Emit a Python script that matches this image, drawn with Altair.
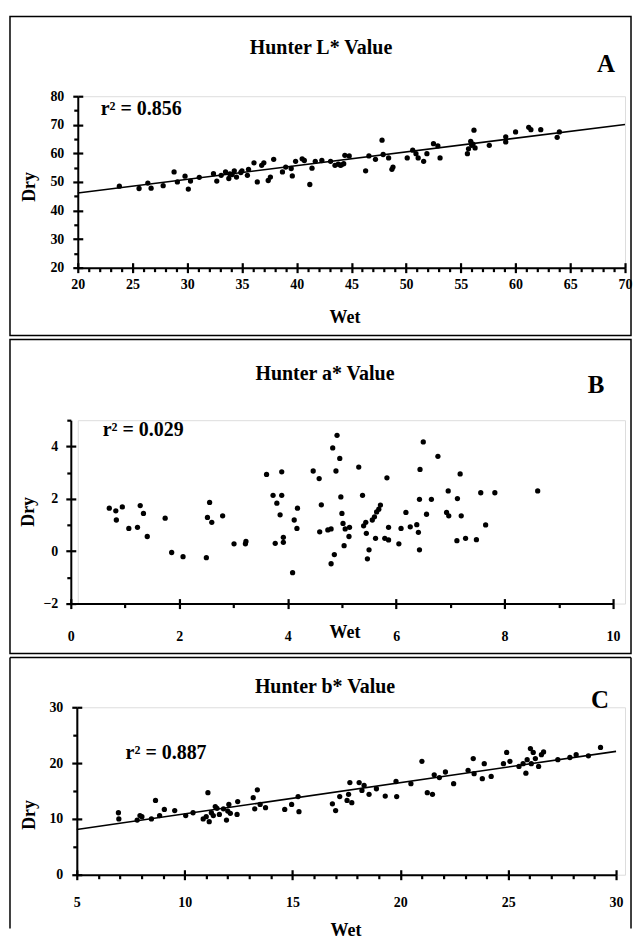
import altair as alt
import pandas as pd

FONT = "Liberation Serif"

# ---------------- data ----------------
titles = ["Hunter L* Value", "Hunter a* Value", "Hunter b* Value"]
letters = ["A", "B", "C"]
r2_labels = ["r\u00b2 = 0.856", "r\u00b2 = 0.029", "r\u00b2 = 0.887"]
x_title = "Wet"
y_title = "Dry"

a_wet = [23.8, 25.6, 26.4, 26.7, 27.8, 28.8, 29.1, 29.8, 30.1, 30.3, 31.1, 32.4, 32.7, 33.1, 33.5,
         33.8, 34.3, 34.5, 34.9, 35.5, 35.6, 36.1, 36.4, 36.8, 37.0, 37.4, 37.6, 37.9, 38.7, 39.0,
         39.5, 39.6, 39.9, 40.5, 40.7, 41.2, 41.4, 41.7, 42.3, 43.1, 43.5, 44.0, 44.3, 44.4, 44.8,
         46.3, 46.6, 47.2, 47.8, 47.9, 48.4, 48.7, 48.8, 50.1, 50.6, 50.9, 51.1, 51.6, 51.9, 52.5,
         52.9, 53.1, 55.6, 55.7, 55.9, 56.0, 56.2, 56.3, 57.6, 59.1, 59.1, 60.0, 61.2, 61.4, 62.3,
         63.8, 64.0, 33.9, 34.1, 44.1, 35.0, 43.8, 56.1]
a_dry = [48.5, 47.7, 49.6, 47.8, 48.7, 53.5, 50.0, 52.0, 47.5, 50.3, 51.6, 52.9, 50.3, 52.3, 53.5,
         51.2, 53.9, 51.7, 53.3, 52.3, 54.4, 56.7, 50.0, 55.8, 56.7, 50.5, 51.7, 57.9, 53.5, 55.2,
         54.7, 52.1, 57.2, 58.1, 57.5, 49.1, 54.8, 57.2, 57.5, 57.2, 55.8, 55.8, 56.4, 59.3, 59.1,
         53.9, 59.1, 57.9, 64.6, 59.6, 58.4, 54.4, 55.2, 58.4, 61.1, 59.9, 58.4, 57.2, 59.9, 63.4,
         62.6, 58.4, 59.9, 61.6, 64.2, 62.8, 68.1, 61.9, 62.8, 65.8, 64.0, 67.5, 69.1, 68.3, 68.3,
         65.6, 67.5, 52.8, 52.6, 56.0, 53.9, 56.2, 63.2]
a_fit_x = [20, 70]
a_fit_y = [46.1, 70.1]

b_wet = [0.71, 0.83, 0.84, 0.95, 1.07, 1.23, 1.28, 1.34, 1.41, 1.74, 1.86, 2.07, 2.50, 2.52, 2.56,
         2.60, 2.80, 3.01, 3.22, 3.23, 3.61, 3.73, 3.77, 3.80, 3.86, 3.89, 3.89, 3.92, 3.92, 4.09,
         4.12, 4.18, 4.17, 4.47, 4.58, 4.59, 4.62, 4.74, 4.80, 4.80, 4.83, 4.86, 4.89, 4.91, 4.96,
         4.98, 5.00, 5.02, 5.04, 5.06, 5.13, 5.14, 5.31, 5.38, 5.40, 5.44, 5.45, 5.47, 5.50, 5.56,
         5.60, 5.64, 5.68, 5.71, 5.62, 5.79, 5.83, 5.86, 5.86, 6.05, 6.09, 6.18, 6.26, 6.38, 6.41,
         6.43, 6.43, 6.44, 6.50, 6.56, 6.65, 6.77, 6.93, 6.96, 6.97, 7.12, 7.13, 7.18, 7.20, 7.28,
         7.48, 7.56, 7.65, 7.82, 8.61]
b_dry = [1.64, 1.54, 1.19, 1.69, 0.87, 0.91, 1.74, 1.44, 0.56, 1.26, -0.05, -0.21, -0.25, 1.29, 1.86,
         1.10, 1.35, 0.28, 0.28, 0.37, 2.93, 2.13, 0.30, 1.83, 1.39, 3.03, 2.13, 0.34, 0.53, -0.82,
         1.19, 1.64, 0.87, 3.06, 2.77, 0.74, 1.77, 0.81, -0.48, 0.85, 3.94, -0.13, 3.06, 4.42, 3.54,
         2.07, 1.44, 1.06, 0.21, 0.85, 0.56, 0.91, 3.21, 2.13, 0.97, 1.10, 0.68, -0.29, 0.05, 1.19,
         1.31, 1.50, 1.60, 1.76, 0.49, 0.49, 2.80, 0.43, 0.91, 0.28, 0.87, 1.48, 0.93, 1.01, 0.72,
         0.05, 1.98, 3.12, 4.17, 1.41, 1.98, 3.62, 1.48, 2.30, 1.35, 0.40, 2.01, 2.95, 1.35, 0.49,
         0.44, 2.23, 1.00, 2.23, 2.30]

c_wet = [6.93, 6.95, 7.80, 7.93, 8.02, 8.46, 8.65, 8.84, 9.06, 9.54, 10.05, 10.39, 10.86, 11.08, 11.14,
         11.24, 11.33, 11.42, 11.61, 11.80, 11.94, 12.05, 12.12, 12.43, 12.46, 13.18, 13.25, 13.37, 13.50, 13.75,
         14.64, 14.96, 15.26, 15.30, 16.85, 17.00, 17.19, 17.53, 17.60, 17.66, 17.75, 18.09, 18.22, 18.32, 18.55,
         18.89, 19.30, 19.80, 19.83, 20.49, 21.00, 21.25, 21.49, 21.57, 21.81, 22.09, 22.47, 23.14, 23.38, 23.42,
         23.80, 23.89, 24.21, 24.78, 24.93, 25.08, 25.50, 25.69, 25.82, 25.88, 26.03, 26.07, 26.16, 26.26, 26.41,
         26.54, 26.64, 27.30, 27.86, 28.15, 28.72, 29.28, 11.00, 11.50, 12.00]
c_dry = [11.1, 10.0, 9.8, 10.6, 10.4, 10.0, 13.3, 10.6, 11.7, 11.5, 10.6, 11.1, 10.0, 14.7, 9.5,
         11.1, 10.6, 12.2, 10.8, 11.8, 9.8, 12.6, 11.0, 10.8, 13.1, 13.8, 11.8, 15.2, 12.6, 12.0,
         11.7, 12.6, 14.0, 11.3, 12.7, 11.5, 14.0, 13.3, 14.4, 16.5, 12.9, 16.5, 15.1, 16.0, 14.4,
         15.4, 14.1, 16.7, 14.0, 16.3, 20.3, 14.7, 14.4, 17.9, 17.4, 18.4, 16.3, 18.7, 20.8, 18.1,
         17.2, 19.9, 17.6, 19.9, 21.9, 20.3, 19.4, 19.9, 18.2, 20.6, 22.6, 19.9, 21.9, 20.8, 19.4,
         21.5, 22.0, 20.6, 21.0, 21.5, 21.3, 22.8, 10.4, 11.9, 11.4]
c_fit_x = [5, 30]
c_fit_y = [8.1, 22.1]

a_x_major = [20, 25, 30, 35, 40, 45, 50, 55, 60, 65, 70]
a_x_minor = [v for v in range(21, 70) if v % 5 != 0]
a_y_major = [20, 30, 40, 50, 60, 70, 80]
a_y_minor = [25, 35, 45, 55, 65, 75]

b_x_major = [0, 2, 4, 6, 8, 10]
b_x_minor = [1, 3, 5, 7, 9]
b_y_major = [-2, 0, 2, 4]
b_y_minor = [-1, 1, 3, 5]

c_x_major = [5, 10, 15, 20, 25, 30]
c_x_minor = [v for v in range(6, 30) if v % 5 != 0]
c_y_major = [0, 10, 20, 30]
c_y_minor = [5, 15, 25]

W = 549  # common group width; each panel's x axis set through its scale range
TICK = "#000000"


def txt(s, size, **kw):
    return alt.Chart(pd.DataFrame({"t": [s]})).mark_text(
        font=FONT, fontWeight="bold", fontSize=size, color="black", **kw
    )


def main_axis(major, minor, pad, offset=0):
    test = "indexof(%s, datum.value) >= 0" % str(list(major))
    return alt.Axis(
        values=sorted(list(major) + list(minor)),
        ticks=True, tickColor=TICK, tickOpacity=1, tickWidth=2.2,
        tickSize={"condition": {"test": test, "value": 5}, "value": 4},
        labelExpr="%s ? datum.label : ''" % test,
        domain=True, domainColor="black", domainWidth=2, grid=False,
        labelFont=FONT, labelFontWeight="bold", labelFontSize=14, labelColor="black",
        labelPadding=pad, labelFlush=False, labelOverlap=False, title=None, offset=offset,
    )


def inner_axis(major, orient, offset):
    return alt.Axis(orient=orient, values=list(major), ticks=True, tickColor=TICK,
                    tickOpacity=1, tickWidth=2.2, tickSize=5, labels=False, domain=False,
                    grid=False, title=None, offset=offset)


def panel(i, wet, dry, fit, xdom, ydom, xmaj, xmin, ymaj, ymin, H, lay):
    x0, x1 = lay["xrange"]
    xs = alt.Scale(domain=xdom, nice=False, zero=False, range=[x0, x1])
    ys = alt.Scale(domain=ydom, nice=False, zero=False)
    layers = []
    bx1, bx2, by1, by2 = lay["box"]
    fr = pd.DataFrame({"d": [0]})
    if lay.get("open_bottom"):
        layers.append(alt.Chart(fr).mark_rule(color="black", strokeWidth=1.5).encode(
            x=alt.value(bx1), x2=alt.value(bx2), y=alt.value(by1)))
        layers.append(alt.Chart(fr).mark_rule(color="black", strokeWidth=1.5).encode(
            x=alt.value(bx1), y=alt.value(by1), y2=alt.value(by2)))
        layers.append(alt.Chart(fr).mark_rule(color="black", strokeWidth=1.5).encode(
            x=alt.value(bx2), y=alt.value(by1), y2=alt.value(by2)))
    else:
        layers.append(alt.Chart(fr).mark_rect(
            fill="white", fillOpacity=0, stroke="black", strokeWidth=1.5).encode(
            x=alt.value(bx1), x2=alt.value(bx2), y=alt.value(by1), y2=alt.value(by2)))
    pts = pd.DataFrame({"wet": wet, "dry": dry})
    # invisible layer carrying the inner halves of the major ticks
    layers.append(alt.Chart(pts).mark_circle(opacity=0).encode(
        x=alt.X("wet:Q", scale=xs, axis=inner_axis(xmaj, "top", -H)),
        y=alt.Y("dry:Q", scale=ys, axis=inner_axis(ymaj, "right", -(W - x0)))))
    if fit is not None:
        layers.append(alt.Chart(pd.DataFrame({"wet": fit[0], "dry": fit[1]})).mark_line(
            color="black", strokeWidth=1.6).encode(
            x=alt.X("wet:Q", scale=xs, axis=None), y=alt.Y("dry:Q", scale=ys, axis=None)))
    layers.append(alt.Chart(pts).mark_circle(color="black", opacity=1, size=28).encode(
        x=alt.X("wet:Q", scale=xs, axis=main_axis(xmaj, xmin, lay["xpad"])),
        y=alt.Y("dry:Q", scale=ys, axis=main_axis(ymaj, ymin, lay["ypad"], offset=-x0))))
    layers.append(txt(titles[i], 20).encode(text="t:N", x=alt.value(lay["title"][0]), y=alt.value(lay["title"][1])))
    layers.append(txt(letters[i], 25).encode(text="t:N", x=alt.value(lay["letter"][0]), y=alt.value(lay["letter"][1])))
    layers.append(txt(r2_labels[i], 20, align="left").encode(text="t:N", x=alt.value(lay["r2"][0]), y=alt.value(lay["r2"][1])))
    layers.append(txt(x_title, 18).encode(text="t:N", x=alt.value(lay["wet"][0]), y=alt.value(lay["wet"][1])))
    layers.append(txt(y_title, 18, angle=270).encode(text="t:N", x=alt.value(lay["dry"][0]), y=alt.value(lay["dry"][1])))
    return alt.layer(*layers).resolve_axis(x="independent", y="independent").properties(width=W, height=H)


pA = panel(0, a_wet, a_dry, (a_fit_x, a_fit_y), [20, 70], [20, 80], a_x_major, a_x_minor,
           a_y_major, a_y_minor, 172,
           dict(xrange=(0, 549), box=(-68, 555, -80, 240), title=(244, -48), letter=(530, -32),
                r2=(23, 13), wet=(268, 223), dry=(-48, 91), xpad=5, ypad=9))
pB = panel(1, b_wet, b_dry, None, [0, 10], [-2, 5], b_x_major, b_x_minor,
           b_y_major, b_y_minor, 184,
           dict(xrange=(-7, 537), box=(-68, 555, -81, 234), title=(248, -46), letter=(520, -35),
                r2=(25, 10), wet=(268, 214), dry=(-49, 92), xpad=21, ypad=8))
pC = panel(2, c_wet, c_dry, (c_fit_x, c_fit_y), [5, 30], [0, 30], c_x_major, c_x_minor,
           c_y_major, c_y_minor, 168,
           dict(xrange=(-1, 540), box=(-68, 555, -50, 222), open_bottom=True, title=(248, -20),
                letter=(524, -7), r2=(48, 46), wet=(269, 224), dry=(-48, 108), xpad=16, ypad=9))

chart = alt.vconcat(pA, pB, pC, spacing=0).properties(
    padding={"top": 5, "left": 0, "right": 0, "bottom": 0}
).configure_view(stroke=None).configure(background="white")

chart.save("out.html", embed_options={"renderer": "svg", "actions": False})
